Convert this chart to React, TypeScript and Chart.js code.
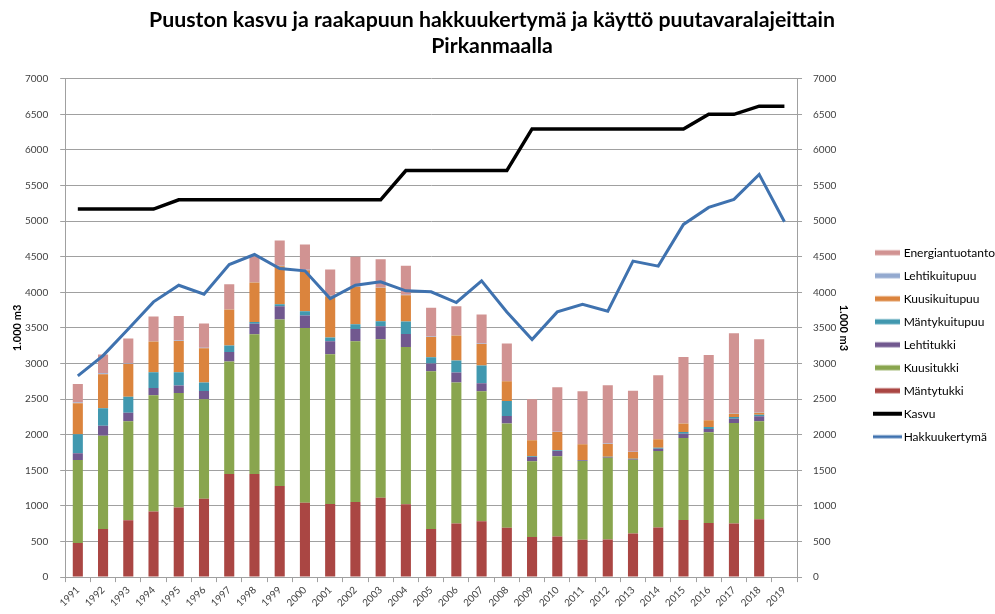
import React, { useEffect, useRef } from "react";
import { Chart, registerables } from "chart.js";

Chart.register(...registerables);

const years = ["1991","1992","1993","1994","1995","1996","1997","1998","1999","2000","2001","2002","2003","2004","2005","2006","2007","2008","2009","2010","2011","2012","2013","2014","2015","2016","2017","2018","2019"];

const mantytukki = [478, 675, 797, 923, 979, 1101, 1448, 1448, 1279, 1045, 1026, 1054, 1115, 1022, 675, 754, 783, 694, 562, 572, 525, 530, 614, 698, 801, 759, 754, 811, null];
const kuusitukki = [1167, 1312, 1391, 1631, 1608, 1397, 1579, 1963, 2339, 2455, 2104, 2259, 2226, 2211, 2216, 1978, 1827, 1462, 1064, 1124, 1106, 1148, 1035, 1073, 1153, 1275, 1411, 1377, null];
const lehtitukki = [94, 140, 122, 103, 103, 117, 136, 146, 187, 174, 183, 173, 183, 183, 108, 141, 113, 107, 61, 75, 9, 9, 10, 33, 61, 47, 61, 71, null];
const mantykuitupuu = [267, 244, 225, 220, 187, 117, 89, 28, 28, 61, 52, 66, 70, 173, 89, 168, 248, 211, 9, 10, 5, 5, 5, 14, 23, 28, 23, 23, null];
const kuusikuitupuu = [435, 478, 459, 431, 441, 483, 506, 553, 534, 576, 581, 525, 469, 371, 286, 352, 305, 277, 225, 257, 220, 178, 93, 117, 118, 93, 47, 28, null];
const lehtikuitupuu = [10, 14, 5, 5, 5, 5, 5, 5, 5, 5, 5, 5, 5, 5, 5, 5, 5, 5, 5, 5, 5, 5, 5, 5, 5, 5, 5, 5, null];
const energiantuotanto = [262, 263, 351, 347, 346, 341, 351, 362, 356, 356, 369, 417, 398, 407, 403, 407, 407, 524, 572, 623, 740, 819, 857, 895, 932, 914, 1124, 1026, null];
const kasvu = [5170, 5170, 5170, 5170, 5300, 5300, 5300, 5300, 5300, 5300, 5300, 5300, 5300, 5710, 5710, 5710, 5710, 5710, 6295, 6295, 6295, 6295, 6295, 6295, 6295, 6500, 6500, 6615, 6615];
const hakkuukertyma = [2826, 3111, 3486, 3866, 4100, 3974, 4391, 4531, 4335, 4302, 3913, 4100, 4147, 4021, 4007, 3857, 4161, 3725, 3336, 3725, 3833, 3735, 4438, 4368, 4954, 5193, 5305, 5657, 4991];

const titleLines = ["Puuston kasvu ja raakapuun hakkuukertymä ja käyttö puutavaralajeittain", "Pirkanmaalla"];
const axisTitle = "1.000 m3";

const barSeries = [
  { label: "Mäntytukki", data: mantytukki, color: "#AA4643" },
  { label: "Kuusitukki", data: kuusitukki, color: "#89A54E" },
  { label: "Lehtitukki", data: lehtitukki, color: "#71588F" },
  { label: "Mäntykuitupuu", data: mantykuitupuu, color: "#4198AF" },
  { label: "Kuusikuitupuu", data: kuusikuitupuu, color: "#DB843D" },
  { label: "Lehtikuitupuu", data: lehtikuitupuu, color: "#93A9CF" },
  { label: "Energiantuotanto", data: energiantuotanto, color: "#D19392" },
];

const FONT = "Lato, 'Open Sans', sans-serif";

function makeSwatch(color: string, w: number, h: number): HTMLCanvasElement {
  const c = document.createElement("canvas");
  c.width = w;
  c.height = 8;
  const g = c.getContext("2d")!;
  g.fillStyle = color;
  g.fillRect(0, (8 - h) / 2, w, h);
  return c;
}

export default function App() {
  const ref = useRef<HTMLCanvasElement | null>(null);
  useEffect(() => {
    if (!ref.current) return;
    const datasets: any[] = barSeries.map((s) => ({
      type: "bar",
      label: s.label,
      data: s.data,
      backgroundColor: s.color,
      borderWidth: 0,
      barPercentage: 0.8,
      categoryPercentage: 0.5,
      yAxisID: "y",
      stack: "s",
      order: 2,
    }));
    datasets.push({
      type: "line",
      label: "Kasvu",
      data: kasvu,
      borderColor: "#000000",
      backgroundColor: "#000000",
      borderWidth: 3.5,
      pointRadius: 0,
      tension: 0,
      yAxisID: "y2",
      order: 0,
    });
    datasets.push({
      type: "line",
      label: "Hakkuukertymä",
      data: hakkuukertyma,
      borderColor: "#3F72AF",
      backgroundColor: "#3F72AF",
      borderWidth: 3,
      pointRadius: 0,
      tension: 0,
      yAxisID: "y2",
      order: 0,
    });
    const swatches: Record<string, HTMLCanvasElement> = {};
    barSeries.forEach((s) => (swatches[s.label] = makeSwatch(s.color, 25, 5)));
    swatches["Kasvu"] = makeSwatch("#000000", 29, 4);
    swatches["Hakkuukertymä"] = makeSwatch("#3F72AF", 29, 3);

    const tickFont = { family: FONT, size: 10 };
    const fmt = (v: any) => String(v);
    const chart: any = new Chart(ref.current, {
      type: "bar",
      data: { labels: years, datasets },
      options: {
        animation: false,
        responsive: true,
        maintainAspectRatio: false,
        layout: { padding: { left: -21, right: -10, top: 0, bottom: 3 } },
        plugins: {
          title: {
            display: true,
            text: titleLines,
            color: "#000",
            font: { family: FONT, size: 21.3, weight: "bold", lineHeight: 1.25 },
            padding: { top: 6.5, bottom: 19 },
          },
          legend: {
            position: "right",
            title: { display: true, text: "", padding: { top: 64, bottom: 0 }, font: { size: 12 } },
            labels: {
              usePointStyle: true,
              pointStyleWidth: 20,
              padding: 11,
              color: "#000",
              font: { family: FONT, size: 12 },
              generateLabels: (ch: any) => {
                const items = Chart.defaults.plugins.legend.labels.generateLabels(ch);
                return items.map((it: any) => ({ ...it, pointStyle: swatches[it.text] }));
              },
              sort: (a: any, b: any) => {
                const k = (i: number) => (i < 7 ? 6 - i : i);
                return k(a.datasetIndex) - k(b.datasetIndex);
              },
            },
          },
          tooltip: { enabled: false },
        },
        scales: {
          x: {
            stacked: true,
            grid: { display: true, drawOnChartArea: false, drawTicks: true, tickLength: 5, color: "#A0A0A0", offset: true },
            border: { color: "#A0A0A0" },
            ticks: { font: tickFont, color: "#404040", minRotation: 45, maxRotation: 45, autoSkip: false, padding: 2 },
          },
          y: {
            stacked: true,
            position: "left",
            min: 0,
            max: 7000,
            grid: { color: "#A0A0A0", tickLength: 5 },
            border: { color: "#A0A0A0" },
            ticks: { stepSize: 500, font: tickFont, color: "#404040", padding: 12, callback: fmt },
            title: { display: true, text: axisTitle, color: "#000", font: { family: FONT, size: 11, weight: "bold" }, padding: { top: 31.4, bottom: -10.6 } },
          },
          y2: {
            position: "right",
            min: 0,
            max: 7000,
            grid: { drawOnChartArea: false, color: "#A0A0A0", tickLength: 5 },
            border: { color: "#A0A0A0" },
            ticks: { stepSize: 500, font: tickFont, color: "#404040", padding: 11, callback: fmt },
            title: { display: true, text: axisTitle, color: "#000", font: { family: FONT, size: 11, weight: "bold" }, padding: { top: 16, bottom: -9.8 } },
          },
        },
      } as any,
    });
    return () => chart.destroy();
  }, []);
  return (
    <div style={{ position: "absolute", left: 0, top: 0, width: 995, height: 614, background: "#fff" }}>
      <canvas ref={ref} />
    </div>
  );
}
